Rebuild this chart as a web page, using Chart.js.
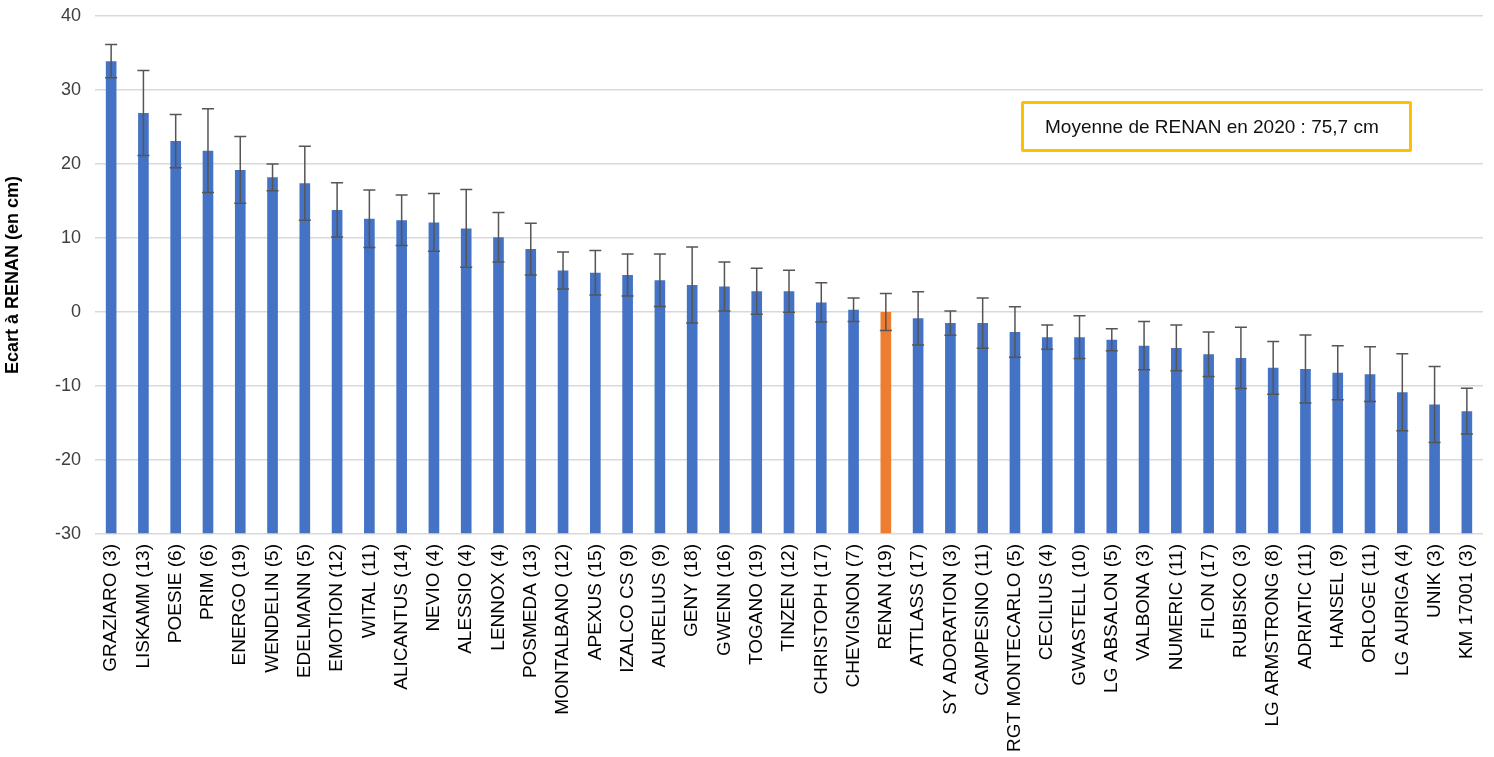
<!DOCTYPE html>
<html>
<head>
<meta charset="utf-8">
<script src="https://cdn.jsdelivr.net/npm/chart.js@4.4.0/dist/chart.umd.min.js"></script>
<style>
  body { margin: 0; background: #fff; }
  #wrap { position: relative; width: 1494px; height: 757px; }
  #note {
    position: absolute; left: 1021px; top: 101px; width: 364px; height: 45px;
    border: 3px solid #FFC000; border-radius: 2px;
    font-family: 'Liberation Sans', Arial, sans-serif; font-size: 19px; color: #111;
    line-height: 45px; padding-left: 21px; box-sizing: content-box; white-space: nowrap;
  }
</style>
</head>
<body>
<div id="wrap">
  <canvas id="my-chart" width="1494" height="757"></canvas>
  <div id="note">Moyenne de RENAN en 2020 : 75,7 cm</div>
</div>
<script>
'use strict';

// ******** DATA **************
let varieties = [
  'GRAZIARO (3)', 'LISKAMM (13)', 'POESIE (6)', 'PRIM (6)', 'ENERGO (19)', 'WENDELIN (5)',
  'EDELMANN (5)', 'EMOTION (12)', 'WITAL (11)', 'ALICANTUS (14)', 'NEVIO (4)', 'ALESSIO (4)',
  'LENNOX (4)', 'POSMEDA (13)', 'MONTALBANO (12)', 'APEXUS (15)', 'IZALCO CS (9)', 'AURELIUS (9)',
  'GENY (18)', 'GWENN (16)', 'TOGANO (19)', 'TINZEN (12)', 'CHRISTOPH (17)', 'CHEVIGNON (7)',
  'RENAN (19)', 'ATTLASS (17)', 'SY ADORATION (3)', 'CAMPESINO (11)', 'RGT MONTECARLO (5)',
  'CECILIUS (4)', 'GWASTELL (10)', 'LG ABSALON (5)', 'VALBONA (3)', 'NUMERIC (11)', 'FILON (17)',
  'RUBISKO (3)', 'LG ARMSTRONG (8)', 'ADRIATIC (11)', 'HANSEL (9)', 'ORLOGE (11)', 'LG AURIGA (4)',
  'UNIK (3)', 'KM 17001 (3)'
];

// ecart a RENAN (cm)
let ecarts = [
  33.9, 26.9, 23.1, 21.8, 19.2, 18.2,
  17.4, 13.8, 12.6, 12.4, 12.1, 11.3,
  10.1, 8.5, 5.6, 5.3, 5.0, 4.3,
  3.65, 3.45, 2.8, 2.8, 1.3, 0.3,
  0, -0.85, -1.5, -1.5, -2.7,
  -3.4, -3.4, -3.75, -4.55, -4.85, -5.7,
  -6.2, -7.55, -7.7, -8.2, -8.4, -10.85,
  -12.5, -13.4
];

// half width of the error bars
let erreurs = [
  2.25, 5.75, 3.6, 5.65, 4.5, 1.8,
  5.0, 3.65, 3.9, 3.4, 3.9, 5.25,
  3.35, 3.5, 2.5, 3.0, 2.85, 3.55,
  5.15, 3.3, 3.1, 2.85, 2.65, 1.6,
  2.5, 3.6, 1.65, 3.4, 3.4,
  1.65, 2.9, 1.5, 3.25, 3.1, 3.0,
  4.15, 3.55, 4.6, 3.65, 3.7, 5.2,
  5.15, 3.1
];

let yTicks = [-30, -20, -10, 0, 10, 20, 30, 40];
let refVariety = 'RENAN (19)';

// ********* COLORS *************
let barColors = varieties.map(v => v === refVariety ? '#ED7D31' : '#4472C4');

// ********* ERROR BAR PLUGIN *************
let errorBars = {
  id: 'errorBars',
  afterDatasetsDraw(chart) {
    let ctx = chart.ctx;
    let meta = chart.getDatasetMeta(0);
    let yScale = chart.scales.y;
    ctx.save();
    ctx.strokeStyle = '#555555';
    ctx.lineWidth = 1.5;
    for (let i = 0; i < ecarts.length; i++) {
      let x = meta.data[i].x;
      let top = yScale.getPixelForValue(ecarts[i] + erreurs[i]);
      let bot = yScale.getPixelForValue(ecarts[i] - erreurs[i]);
      ctx.beginPath();
      ctx.moveTo(x, top);
      ctx.lineTo(x, bot);
      ctx.moveTo(x - 6, top);
      ctx.lineTo(x + 6, top);
      ctx.moveTo(x - 6, bot);
      ctx.lineTo(x + 6, bot);
      ctx.stroke();
    }
    ctx.restore();
  }
};

// ********* CHART *************
let canvasElem = document.getElementById('my-chart');

let myObj = {
  type: 'bar',
  data: {
    labels: varieties,
    datasets: [{
      data: ecarts,
      base: yTicks[0],   // bars rise from the bottom of the axis, like the original
      backgroundColor: barColors,
      borderWidth: 0,
      categoryPercentage: 1,
      barPercentage: 0.33
    }]
  },
  options: {
    responsive: false,
    animation: false,
    layout: { padding: { top: 16, right: 11, left: 2, bottom: 0 } },
    plugins: {
      legend: { display: false },
      tooltip: { enabled: false }
    },
    scales: {
      x: {
        grid: { display: false, drawTicks: false },
        border: { display: false },
        ticks: {
          autoSkip: false,
          maxRotation: 90,
          minRotation: 90,
          padding: 10,
          color: '#000',
          font: { family: 'Liberation Sans', size: 19 }
        },
        afterFit(scale) {
          scale.height = 223;
          scale.paddingLeft = 0;
          scale.paddingRight = 0;
        }
      },
      y: {
        min: -30,
        max: 40,
        afterBuildTicks(scale) { scale.ticks = yTicks.map(v => ({ value: v })); },
        grid: { color: '#d9d9d9', lineWidth: 1.5, drawTicks: false },
        border: { display: false },
        ticks: {
          padding: 14,
          color: '#404040',
          font: { family: 'Liberation Sans', size: 18 }
        },
        title: {
          display: true,
          text: 'Ecart à RENAN (en cm)',
          color: '#000',
          font: { family: 'Liberation Sans', size: 18, weight: 'bold' },
          padding: { top: 0, bottom: 2 }
        },
        afterFit(scale) {
          scale.width = 93;
          scale.paddingTop = 0;
          scale.paddingBottom = 0;
        }
      }
    }
  },
  plugins: [errorBars]
};

new Chart(canvasElem, myObj);
</script>
</body>
</html>
